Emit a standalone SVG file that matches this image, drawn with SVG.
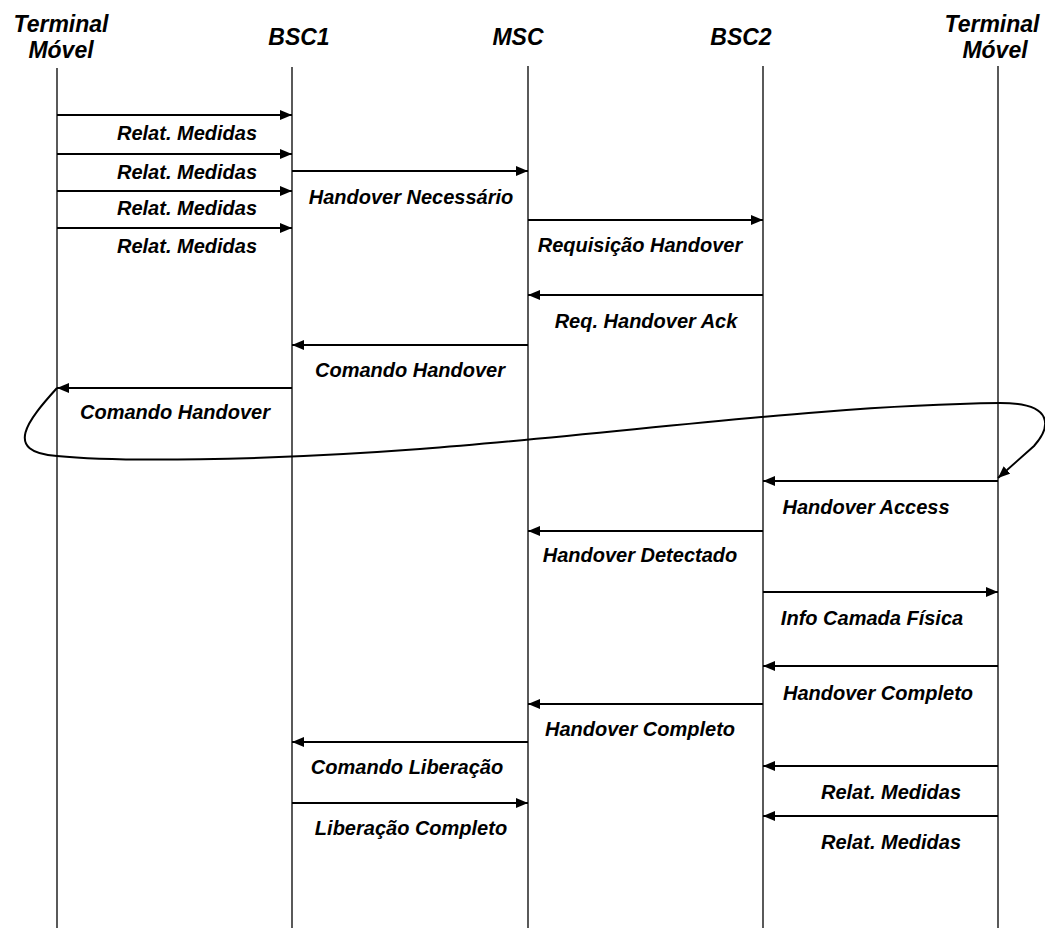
<svg xmlns="http://www.w3.org/2000/svg" width="1045" height="931" viewBox="0 0 1045 931">
  <style>
    .hdr { font-family: "Liberation Sans", Arial, sans-serif; font-size: 23px; font-weight: bold; font-style: italic; fill: #000; text-anchor: middle; }
    .lbl { font-family: "Liberation Sans", Arial, sans-serif; font-size: 20px; font-weight: bold; font-style: italic; fill: #000; text-anchor: middle; }
    .life { stroke: #000; stroke-width: 1.3; fill: none; }
    .msg { stroke: #000; stroke-width: 2; fill: none; marker-end: url(#head); }
  </style>
  <defs>
    <marker id="head" markerUnits="userSpaceOnUse" markerWidth="13" markerHeight="11" refX="12" refY="5" orient="auto">
      <path d="M0,0 L12,5 L0,10 z" fill="#000"/>
    </marker>
  </defs>
  <rect width="1045" height="931" fill="#fff"/>

  <!-- participants with their lifelines -->
  <g id="terminal-a">
    <text class="hdr" x="61" y="32">Terminal</text>
    <text class="hdr" x="61" y="58">Móvel</text>
    <line class="life" x1="57" y1="68" x2="57" y2="928"/>
  </g>
  <g id="bsc1">
    <text class="hdr" x="299" y="45">BSC1</text>
    <line class="life" x1="292" y1="67" x2="292" y2="928"/>
  </g>
  <g id="msc">
    <text class="hdr" x="518" y="45">MSC</text>
    <line class="life" x1="528" y1="66" x2="528" y2="928"/>
  </g>
  <g id="bsc2">
    <text class="hdr" x="741" y="45">BSC2</text>
    <line class="life" x1="763" y1="66" x2="763" y2="928"/>
  </g>
  <g id="terminal-b">
    <text class="hdr" x="992" y="32">Terminal</text>
    <text class="hdr" x="995" y="58">Móvel</text>
    <line class="life" x1="998" y1="66" x2="998" y2="928"/>
  </g>

  <!-- messages -->
  <g id="connectors">
    <line class="msg" x1="57" y1="115" x2="292" y2="115"/>
    <line class="msg" x1="57" y1="154" x2="292" y2="154"/>
    <line class="msg" x1="57" y1="191" x2="292" y2="191"/>
    <line class="msg" x1="57" y1="228" x2="292" y2="228"/>
    <line class="msg" x1="292" y1="171" x2="528" y2="171"/>
    <line class="msg" x1="528" y1="220" x2="763" y2="220"/>
    <line class="msg" x1="763" y1="295" x2="528" y2="295"/>
    <line class="msg" x1="528" y1="345" x2="292" y2="345"/>
    <line class="msg" x1="292" y1="388" x2="57" y2="388"/>
    <!-- handover loop from the old cell over to the new cell -->
    <path class="msg" d="M57,388 C28,420 2,452 57,456 C115,462 260,461 420,449 C620,434 820,405 1000,403 C1056,403 1050,428 1034,446 L998,478"/>
    <line class="msg" x1="998" y1="481" x2="763" y2="481"/>
    <line class="msg" x1="763" y1="531" x2="528" y2="531"/>
    <line class="msg" x1="763" y1="592" x2="998" y2="592"/>
    <line class="msg" x1="998" y1="666" x2="763" y2="666"/>
    <line class="msg" x1="763" y1="704" x2="528" y2="704"/>
    <line class="msg" x1="528" y1="742" x2="292" y2="742"/>
    <line class="msg" x1="998" y1="766" x2="763" y2="766"/>
    <line class="msg" x1="292" y1="803" x2="528" y2="803"/>
    <line class="msg" x1="998" y1="816" x2="763" y2="816"/>
  </g>

  <!-- message labels -->
  <g id="labels">
    <text class="lbl" x="187" y="140">Relat. Medidas</text>
    <text class="lbl" x="187" y="179">Relat. Medidas</text>
    <text class="lbl" x="187" y="215">Relat. Medidas</text>
    <text class="lbl" x="187" y="253">Relat. Medidas</text>
    <text class="lbl" x="411" y="204">Handover Necessário</text>
    <text class="lbl" x="640" y="252">Requisição Handover</text>
    <text class="lbl" x="646" y="328">Req. Handover Ack</text>
    <text class="lbl" x="410" y="377">Comando Handover</text>
    <text class="lbl" x="175" y="419">Comando Handover</text>
    <text class="lbl" x="866" y="514">Handover Access</text>
    <text class="lbl" x="640" y="562">Handover Detectado</text>
    <text class="lbl" x="872" y="625">Info Camada Física</text>
    <text class="lbl" x="878" y="700">Handover Completo</text>
    <text class="lbl" x="640" y="736">Handover Completo</text>
    <text class="lbl" x="407" y="774">Comando Liberação</text>
    <text class="lbl" x="891" y="799">Relat. Medidas</text>
    <text class="lbl" x="411" y="835">Liberação Completo</text>
    <text class="lbl" x="891" y="849">Relat. Medidas</text>
  </g>
</svg>
